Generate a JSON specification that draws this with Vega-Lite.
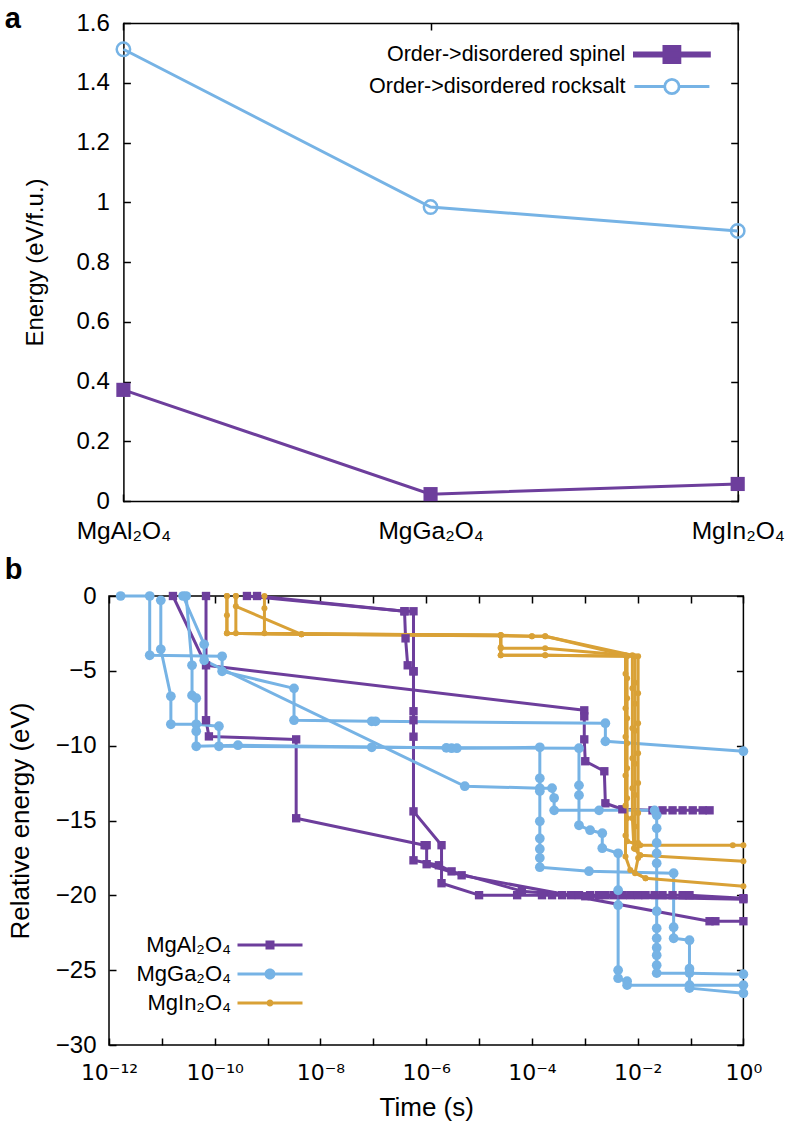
{
  "$schema": "https://vega.github.io/schema/vega-lite/v6.json",
  "padding": {"left": 3, "top": 5, "right": 5, "bottom": 0},
  "columns": 1,
  "align": "none",
  "spacing": 12,
  "datasets": {
    "a": [
      {"c": "MgAl₂O₄", "s": "Order->disordered spinel", "v": 0.372},
      {"c": "MgGa₂O₄", "s": "Order->disordered spinel", "v": 0.023},
      {"c": "MgIn₂O₄", "s": "Order->disordered spinel", "v": 0.057},
      {"c": "MgAl₂O₄", "s": "Order->disordered rocksalt", "v": 1.512},
      {"c": "MgGa₂O₄", "s": "Order->disordered rocksalt", "v": 0.984},
      {"c": "MgIn₂O₄", "s": "Order->disordered rocksalt", "v": 0.904}
    ],
    "b": [
      {"m": "MgAl₂O₄", "tr": "P1", "i": 0, "t": 1.62e-11, "e": 0},
      {"m": "MgAl₂O₄", "tr": "P1", "i": 1, "t": 6.84e-11, "e": -4.63},
      {"m": "MgAl₂O₄", "tr": "P1", "i": 2, "t": 9.77e-4, "e": -7.64},
      {"m": "MgAl₂O₄", "tr": "P1", "i": 3, "t": 9.77e-4, "e": -8.04},
      {"m": "MgAl₂O₄", "tr": "P1", "i": 4, "t": 9.77e-4, "e": -9.58},
      {"m": "MgAl₂O₄", "tr": "P1", "i": 5, "t": 1.02e-3, "e": -11.04},
      {"m": "MgAl₂O₄", "tr": "P1", "i": 6, "t": 2.34e-3, "e": -11.71},
      {"m": "MgAl₂O₄", "tr": "P1", "i": 7, "t": 2.45e-3, "e": -13.85},
      {"m": "MgAl₂O₄", "tr": "P1", "i": 8, "t": 5.13e-3, "e": -14.25},
      {"m": "MgAl₂O₄", "tr": "P1", "i": 9, "t": 1.91e-2, "e": -14.32},
      {"m": "MgAl₂O₄", "tr": "P1", "i": 10, "t": 2.95e-2, "e": -14.32},
      {"m": "MgAl₂O₄", "tr": "P1", "i": 11, "t": 4.57e-2, "e": -14.32},
      {"m": "MgAl₂O₄", "tr": "P1", "i": 12, "t": 7.08e-2, "e": -14.32},
      {"m": "MgAl₂O₄", "tr": "P1", "i": 13, "t": 1.1e-1, "e": -14.32},
      {"m": "MgAl₂O₄", "tr": "P1", "i": 14, "t": 1.7e-1, "e": -14.32},
      {"m": "MgAl₂O₄", "tr": "P1", "i": 15, "t": 2.29e-1, "e": -14.32},
      {"m": "MgAl₂O₄", "tr": "P2", "i": 0, "t": 6.84e-11, "e": 0},
      {"m": "MgAl₂O₄", "tr": "P2", "i": 1, "t": 6.84e-11, "e": -8.3},
      {"m": "MgAl₂O₄", "tr": "P2", "i": 2, "t": 7.76e-11, "e": -9.38},
      {"m": "MgAl₂O₄", "tr": "P2", "i": 3, "t": 3.47e-9, "e": -9.58},
      {"m": "MgAl₂O₄", "tr": "P2", "i": 4, "t": 3.47e-9, "e": -14.85},
      {"m": "MgAl₂O₄", "tr": "P2", "i": 5, "t": 9.33e-7, "e": -16.65},
      {"m": "MgAl₂O₄", "tr": "P2", "i": 6, "t": 1.02e-6, "e": -16.65},
      {"m": "MgAl₂O₄", "tr": "P2", "i": 7, "t": 1.02e-6, "e": -17.92},
      {"m": "MgAl₂O₄", "tr": "P2", "i": 8, "t": 4.68e-6, "e": -18.66},
      {"m": "MgAl₂O₄", "tr": "P2", "i": 9, "t": 2.29e-1, "e": -21.73},
      {"m": "MgAl₂O₄", "tr": "P2", "i": 10, "t": 2.95e-1, "e": -21.73},
      {"m": "MgAl₂O₄", "tr": "P2", "i": 11, "t": 1, "e": -21.73},
      {"m": "MgAl₂O₄", "tr": "P3", "i": 0, "t": 4.07e-10, "e": 0},
      {"m": "MgAl₂O₄", "tr": "P3", "i": 1, "t": 3.89e-7, "e": -1.02},
      {"m": "MgAl₂O₄", "tr": "P3", "i": 2, "t": 4.07e-7, "e": -2.83},
      {"m": "MgAl₂O₄", "tr": "P3", "i": 3, "t": 4.47e-7, "e": -4.63},
      {"m": "MgAl₂O₄", "tr": "P3", "i": 4, "t": 5.75e-7, "e": -5.03},
      {"m": "MgAl₂O₄", "tr": "P3", "i": 5, "t": 5.75e-7, "e": -14.39},
      {"m": "MgAl₂O₄", "tr": "P3", "i": 6, "t": 1.95e-6, "e": -16.65},
      {"m": "MgAl₂O₄", "tr": "P3", "i": 7, "t": 1.95e-6, "e": -19.19},
      {"m": "MgAl₂O₄", "tr": "P3", "i": 8, "t": 1.0e-5, "e": -19.99},
      {"m": "MgAl₂O₄", "tr": "P3", "i": 9, "t": 5.25e-5, "e": -19.99},
      {"m": "MgAl₂O₄", "tr": "P3", "i": 10, "t": 1.55e-4, "e": -19.99},
      {"m": "MgAl₂O₄", "tr": "P3", "i": 11, "t": 2.4e-4, "e": -19.99},
      {"m": "MgAl₂O₄", "tr": "P3", "i": 12, "t": 3.72e-4, "e": -19.99},
      {"m": "MgAl₂O₄", "tr": "P3", "i": 13, "t": 5.5e-4, "e": -19.99},
      {"m": "MgAl₂O₄", "tr": "P3", "i": 14, "t": 7.76e-4, "e": -19.99},
      {"m": "MgAl₂O₄", "tr": "P3", "i": 15, "t": 1.26e-3, "e": -19.99},
      {"m": "MgAl₂O₄", "tr": "P3", "i": 16, "t": 1.86e-3, "e": -19.99},
      {"m": "MgAl₂O₄", "tr": "P3", "i": 17, "t": 2.45e-3, "e": -19.99},
      {"m": "MgAl₂O₄", "tr": "P3", "i": 18, "t": 3.5e-3, "e": -19.99},
      {"m": "MgAl₂O₄", "tr": "P3", "i": 19, "t": 5.13e-3, "e": -19.99},
      {"m": "MgAl₂O₄", "tr": "P3", "i": 20, "t": 7.24e-3, "e": -19.99},
      {"m": "MgAl₂O₄", "tr": "P3", "i": 21, "t": 1.02e-2, "e": -19.99},
      {"m": "MgAl₂O₄", "tr": "P3", "i": 22, "t": 1.41e-2, "e": -19.99},
      {"m": "MgAl₂O₄", "tr": "P3", "i": 23, "t": 2.09e-2, "e": -19.99},
      {"m": "MgAl₂O₄", "tr": "P3", "i": 24, "t": 2.95e-2, "e": -19.99},
      {"m": "MgAl₂O₄", "tr": "P3", "i": 25, "t": 4.57e-2, "e": -19.99},
      {"m": "MgAl₂O₄", "tr": "P3", "i": 26, "t": 7.08e-2, "e": -19.99},
      {"m": "MgAl₂O₄", "tr": "P3", "i": 27, "t": 9.55e-2, "e": -19.99},
      {"m": "MgAl₂O₄", "tr": "P3", "i": 28, "t": 1, "e": -20.19},
      {"m": "MgAl₂O₄", "tr": "P4", "i": 0, "t": 6.31e-10, "e": 0},
      {"m": "MgAl₂O₄", "tr": "P4", "i": 1, "t": 3.89e-7, "e": -1.02},
      {"m": "MgAl₂O₄", "tr": "P4", "i": 2, "t": 5.75e-7, "e": -1.02},
      {"m": "MgAl₂O₄", "tr": "P4", "i": 3, "t": 5.75e-7, "e": -5.03},
      {"m": "MgAl₂O₄", "tr": "P4", "i": 4, "t": 5.75e-7, "e": -7.7},
      {"m": "MgAl₂O₄", "tr": "P4", "i": 5, "t": 5.75e-7, "e": -8.3},
      {"m": "MgAl₂O₄", "tr": "P4", "i": 6, "t": 5.75e-7, "e": -9.4},
      {"m": "MgAl₂O₄", "tr": "P4", "i": 7, "t": 5.75e-7, "e": -17.66},
      {"m": "MgAl₂O₄", "tr": "P4", "i": 8, "t": 1.74e-6, "e": -17.99},
      {"m": "MgAl₂O₄", "tr": "P4", "i": 9, "t": 3.02e-6, "e": -18.4},
      {"m": "MgAl₂O₄", "tr": "P4", "i": 10, "t": 6.46e-5, "e": -19.72},
      {"m": "MgAl₂O₄", "tr": "P4", "i": 11, "t": 1.02e-3, "e": -20.06},
      {"m": "MgAl₂O₄", "tr": "P4", "i": 12, "t": 1, "e": -20.26},
      {"m": "MgGa₂O₄", "tr": "B1", "i": 0, "t": 1.66e-12, "e": 0},
      {"m": "MgGa₂O₄", "tr": "B1", "i": 1, "t": 5.89e-12, "e": 0},
      {"m": "MgGa₂O₄", "tr": "B1", "i": 2, "t": 5.89e-12, "e": -3.96},
      {"m": "MgGa₂O₄", "tr": "B1", "i": 3, "t": 1.38e-10, "e": -4.03},
      {"m": "MgGa₂O₄", "tr": "B1", "i": 4, "t": 1.38e-10, "e": -5.03},
      {"m": "MgGa₂O₄", "tr": "B1", "i": 5, "t": 3.16e-9, "e": -6.17},
      {"m": "MgGa₂O₄", "tr": "B1", "i": 6, "t": 3.16e-9, "e": -8.3},
      {"m": "MgGa₂O₄", "tr": "B1", "i": 7, "t": 9.33e-8, "e": -8.37},
      {"m": "MgGa₂O₄", "tr": "B1", "i": 8, "t": 1.1e-7, "e": -8.37},
      {"m": "MgGa₂O₄", "tr": "B1", "i": 9, "t": 2.45e-3, "e": -8.5},
      {"m": "MgGa₂O₄", "tr": "B1", "i": 10, "t": 2.45e-3, "e": -9.71},
      {"m": "MgGa₂O₄", "tr": "B1", "i": 11, "t": 1, "e": -10.37},
      {"m": "MgGa₂O₄", "tr": "B2", "i": 0, "t": 9.55e-12, "e": -0.29},
      {"m": "MgGa₂O₄", "tr": "B2", "i": 1, "t": 9.55e-12, "e": -3.56},
      {"m": "MgGa₂O₄", "tr": "B2", "i": 2, "t": 1.48e-11, "e": -6.7},
      {"m": "MgGa₂O₄", "tr": "B2", "i": 3, "t": 1.48e-11, "e": -8.57},
      {"m": "MgGa₂O₄", "tr": "B2", "i": 4, "t": 4.47e-11, "e": -8.57},
      {"m": "MgGa₂O₄", "tr": "B2", "i": 5, "t": 1.2e-10, "e": -8.7},
      {"m": "MgGa₂O₄", "tr": "B2", "i": 6, "t": 1.2e-10, "e": -10.04},
      {"m": "MgGa₂O₄", "tr": "B2", "i": 7, "t": 9.33e-8, "e": -10.11},
      {"m": "MgGa₂O₄", "tr": "B2", "i": 8, "t": 7.76e-4, "e": -10.17},
      {"m": "MgGa₂O₄", "tr": "B2", "i": 9, "t": 7.76e-4, "e": -12.65},
      {"m": "MgGa₂O₄", "tr": "B2", "i": 10, "t": 7.76e-4, "e": -13.31},
      {"m": "MgGa₂O₄", "tr": "B2", "i": 11, "t": 7.76e-4, "e": -15.32},
      {"m": "MgGa₂O₄", "tr": "B2", "i": 12, "t": 1.26e-3, "e": -15.65},
      {"m": "MgGa₂O₄", "tr": "B2", "i": 13, "t": 2.14e-3, "e": -15.85},
      {"m": "MgGa₂O₄", "tr": "B2", "i": 14, "t": 2.14e-3, "e": -16.85},
      {"m": "MgGa₂O₄", "tr": "B2", "i": 15, "t": 4.27e-3, "e": -17.19},
      {"m": "MgGa₂O₄", "tr": "B2", "i": 16, "t": 4.27e-3, "e": -19.66},
      {"m": "MgGa₂O₄", "tr": "B2", "i": 17, "t": 4.27e-3, "e": -20.66},
      {"m": "MgGa₂O₄", "tr": "B2", "i": 18, "t": 4.27e-3, "e": -25.0},
      {"m": "MgGa₂O₄", "tr": "B2", "i": 19, "t": 4.27e-3, "e": -25.54},
      {"m": "MgGa₂O₄", "tr": "B2", "i": 20, "t": 6.31e-3, "e": -25.74},
      {"m": "MgGa₂O₄", "tr": "B2", "i": 21, "t": 6.31e-3, "e": -26.0},
      {"m": "MgGa₂O₄", "tr": "B2", "i": 22, "t": 9.55e-2, "e": -26.0},
      {"m": "MgGa₂O₄", "tr": "B2", "i": 23, "t": 1, "e": -26.0},
      {"m": "MgGa₂O₄", "tr": "B3", "i": 0, "t": 2.51e-11, "e": 0},
      {"m": "MgGa₂O₄", "tr": "B3", "i": 1, "t": 6.31e-11, "e": -3.23},
      {"m": "MgGa₂O₄", "tr": "B3", "i": 2, "t": 6.31e-11, "e": -4.3},
      {"m": "MgGa₂O₄", "tr": "B3", "i": 3, "t": 5.37e-6, "e": -12.71},
      {"m": "MgGa₂O₄", "tr": "B3", "i": 4, "t": 1.41e-4, "e": -12.84},
      {"m": "MgGa₂O₄", "tr": "B3", "i": 5, "t": 2.4e-4, "e": -12.84},
      {"m": "MgGa₂O₄", "tr": "B3", "i": 6, "t": 2.63e-4, "e": -13.5},
      {"m": "MgGa₂O₄", "tr": "B3", "i": 7, "t": 2.63e-4, "e": -14.32},
      {"m": "MgGa₂O₄", "tr": "B3", "i": 8, "t": 1.86e-3, "e": -14.32},
      {"m": "MgGa₂O₄", "tr": "B3", "i": 9, "t": 2.09e-2, "e": -14.32},
      {"m": "MgGa₂O₄", "tr": "B3", "i": 10, "t": 2.29e-2, "e": -14.65},
      {"m": "MgGa₂O₄", "tr": "B3", "i": 11, "t": 2.29e-2, "e": -15.52},
      {"m": "MgGa₂O₄", "tr": "B3", "i": 12, "t": 2.29e-2, "e": -16.5},
      {"m": "MgGa₂O₄", "tr": "B3", "i": 13, "t": 2.29e-2, "e": -17.2},
      {"m": "MgGa₂O₄", "tr": "B3", "i": 14, "t": 2.29e-2, "e": -17.86},
      {"m": "MgGa₂O₄", "tr": "B3", "i": 15, "t": 2.29e-2, "e": -21.06},
      {"m": "MgGa₂O₄", "tr": "B3", "i": 16, "t": 2.29e-2, "e": -22.2},
      {"m": "MgGa₂O₄", "tr": "B3", "i": 17, "t": 2.29e-2, "e": -22.87},
      {"m": "MgGa₂O₄", "tr": "B3", "i": 18, "t": 2.29e-2, "e": -23.5},
      {"m": "MgGa₂O₄", "tr": "B3", "i": 19, "t": 2.29e-2, "e": -24.0},
      {"m": "MgGa₂O₄", "tr": "B3", "i": 20, "t": 2.29e-2, "e": -24.67},
      {"m": "MgGa₂O₄", "tr": "B3", "i": 21, "t": 2.29e-2, "e": -25.2},
      {"m": "MgGa₂O₄", "tr": "B3", "i": 22, "t": 9.55e-2, "e": -25.2},
      {"m": "MgGa₂O₄", "tr": "B3", "i": 23, "t": 1, "e": -25.27},
      {"m": "MgGa₂O₄", "tr": "B4", "i": 0, "t": 2.88e-11, "e": 0},
      {"m": "MgGa₂O₄", "tr": "B4", "i": 1, "t": 3.72e-11, "e": -4.63},
      {"m": "MgGa₂O₄", "tr": "B4", "i": 2, "t": 3.72e-11, "e": -6.64},
      {"m": "MgGa₂O₄", "tr": "B4", "i": 3, "t": 4.47e-11, "e": -6.83},
      {"m": "MgGa₂O₄", "tr": "B4", "i": 4, "t": 4.47e-11, "e": -9.04},
      {"m": "MgGa₂O₄", "tr": "B4", "i": 5, "t": 4.47e-11, "e": -10.04},
      {"m": "MgGa₂O₄", "tr": "B4", "i": 6, "t": 2.75e-10, "e": -9.97},
      {"m": "MgGa₂O₄", "tr": "B4", "i": 7, "t": 2.4e-6, "e": -10.15},
      {"m": "MgGa₂O₄", "tr": "B4", "i": 8, "t": 3.02e-6, "e": -10.17},
      {"m": "MgGa₂O₄", "tr": "B4", "i": 9, "t": 3.8e-6, "e": -10.17},
      {"m": "MgGa₂O₄", "tr": "B4", "i": 10, "t": 1.41e-4, "e": -10.11},
      {"m": "MgGa₂O₄", "tr": "B4", "i": 11, "t": 1.41e-4, "e": -12.18},
      {"m": "MgGa₂O₄", "tr": "B4", "i": 12, "t": 1.41e-4, "e": -13.04},
      {"m": "MgGa₂O₄", "tr": "B4", "i": 13, "t": 1.41e-4, "e": -15.05},
      {"m": "MgGa₂O₄", "tr": "B4", "i": 14, "t": 1.41e-4, "e": -16.2},
      {"m": "MgGa₂O₄", "tr": "B4", "i": 15, "t": 1.41e-4, "e": -16.9},
      {"m": "MgGa₂O₄", "tr": "B4", "i": 16, "t": 1.41e-4, "e": -17.5},
      {"m": "MgGa₂O₄", "tr": "B4", "i": 17, "t": 1.41e-4, "e": -18.12},
      {"m": "MgGa₂O₄", "tr": "B4", "i": 18, "t": 1.2e-3, "e": -18.39},
      {"m": "MgGa₂O₄", "tr": "B4", "i": 19, "t": 4.79e-2, "e": -18.52},
      {"m": "MgGa₂O₄", "tr": "B4", "i": 20, "t": 4.79e-2, "e": -22.13},
      {"m": "MgGa₂O₄", "tr": "B4", "i": 21, "t": 4.79e-2, "e": -22.87},
      {"m": "MgGa₂O₄", "tr": "B4", "i": 22, "t": 9.55e-2, "e": -23.0},
      {"m": "MgGa₂O₄", "tr": "B4", "i": 23, "t": 9.55e-2, "e": -24.9},
      {"m": "MgGa₂O₄", "tr": "B4", "i": 24, "t": 9.55e-2, "e": -26.2},
      {"m": "MgGa₂O₄", "tr": "B4", "i": 25, "t": 1, "e": -26.54},
      {"m": "MgIn₂O₄", "tr": "Y1", "i": 0, "t": 1.7e-10, "e": 0},
      {"m": "MgIn₂O₄", "tr": "Y1", "i": 1, "t": 1.7e-10, "e": -1.29},
      {"m": "MgIn₂O₄", "tr": "Y1", "i": 2, "t": 1.7e-10, "e": -2.49},
      {"m": "MgIn₂O₄", "tr": "Y1", "i": 3, "t": 4.37e-9, "e": -2.56},
      {"m": "MgIn₂O₄", "tr": "Y1", "i": 4, "t": 2.57e-5, "e": -2.62},
      {"m": "MgIn₂O₄", "tr": "Y1", "i": 5, "t": 2.57e-5, "e": -3.43},
      {"m": "MgIn₂O₄", "tr": "Y1", "i": 6, "t": 2.57e-5, "e": -3.96},
      {"m": "MgIn₂O₄", "tr": "Y1", "i": 7, "t": 1.78e-4, "e": -3.96},
      {"m": "MgIn₂O₄", "tr": "Y1", "i": 8, "t": 6.31e-3, "e": -4.03},
      {"m": "MgIn₂O₄", "tr": "Y1", "i": 9, "t": 6.31e-3, "e": -5.5},
      {"m": "MgIn₂O₄", "tr": "Y1", "i": 10, "t": 6.31e-3, "e": -6.83},
      {"m": "MgIn₂O₄", "tr": "Y1", "i": 11, "t": 6.31e-3, "e": -8.17},
      {"m": "MgIn₂O₄", "tr": "Y1", "i": 12, "t": 6.31e-3, "e": -9.84},
      {"m": "MgIn₂O₄", "tr": "Y1", "i": 13, "t": 6.31e-3, "e": -11.51},
      {"m": "MgIn₂O₄", "tr": "Y1", "i": 14, "t": 6.31e-3, "e": -13.52},
      {"m": "MgIn₂O₄", "tr": "Y1", "i": 15, "t": 6.31e-3, "e": -14.85},
      {"m": "MgIn₂O₄", "tr": "Y1", "i": 16, "t": 6.31e-3, "e": -16.39},
      {"m": "MgIn₂O₄", "tr": "Y1", "i": 17, "t": 1.12e-2, "e": -16.65},
      {"m": "MgIn₂O₄", "tr": "Y1", "i": 18, "t": 6.31e-1, "e": -16.65},
      {"m": "MgIn₂O₄", "tr": "Y1", "i": 19, "t": 1, "e": -16.65},
      {"m": "MgIn₂O₄", "tr": "Y2", "i": 0, "t": 2.51e-10, "e": 0},
      {"m": "MgIn₂O₄", "tr": "Y2", "i": 1, "t": 2.51e-10, "e": -0.69},
      {"m": "MgIn₂O₄", "tr": "Y2", "i": 2, "t": 4.37e-9, "e": -2.56},
      {"m": "MgIn₂O₄", "tr": "Y2", "i": 3, "t": 1.0e-4, "e": -2.69},
      {"m": "MgIn₂O₄", "tr": "Y2", "i": 4, "t": 1.78e-4, "e": -2.69},
      {"m": "MgIn₂O₄", "tr": "Y2", "i": 5, "t": 7.94e-3, "e": -3.96},
      {"m": "MgIn₂O₄", "tr": "Y2", "i": 6, "t": 7.94e-3, "e": -6.17},
      {"m": "MgIn₂O₄", "tr": "Y2", "i": 7, "t": 7.94e-3, "e": -8.84},
      {"m": "MgIn₂O₄", "tr": "Y2", "i": 8, "t": 7.94e-3, "e": -10.84},
      {"m": "MgIn₂O₄", "tr": "Y2", "i": 9, "t": 7.94e-3, "e": -12.84},
      {"m": "MgIn₂O₄", "tr": "Y2", "i": 10, "t": 7.94e-3, "e": -14.85},
      {"m": "MgIn₂O₄", "tr": "Y2", "i": 11, "t": 8.51e-3, "e": -16.85},
      {"m": "MgIn₂O₄", "tr": "Y2", "i": 12, "t": 1.12e-2, "e": -17.32},
      {"m": "MgIn₂O₄", "tr": "Y2", "i": 13, "t": 1, "e": -17.72},
      {"m": "MgIn₂O₄", "tr": "Y3", "i": 0, "t": 8.71e-10, "e": 0},
      {"m": "MgIn₂O₄", "tr": "Y3", "i": 1, "t": 8.71e-10, "e": -0.82},
      {"m": "MgIn₂O₄", "tr": "Y3", "i": 2, "t": 8.71e-10, "e": -2.49},
      {"m": "MgIn₂O₄", "tr": "Y3", "i": 3, "t": 2.57e-5, "e": -2.62},
      {"m": "MgIn₂O₄", "tr": "Y3", "i": 4, "t": 2.57e-5, "e": -3.49},
      {"m": "MgIn₂O₄", "tr": "Y3", "i": 5, "t": 1.78e-4, "e": -3.49},
      {"m": "MgIn₂O₄", "tr": "Y3", "i": 6, "t": 1.02e-2, "e": -4.03},
      {"m": "MgIn₂O₄", "tr": "Y3", "i": 7, "t": 1.02e-2, "e": -6.5},
      {"m": "MgIn₂O₄", "tr": "Y3", "i": 8, "t": 1.02e-2, "e": -8.5},
      {"m": "MgIn₂O₄", "tr": "Y3", "i": 9, "t": 1.02e-2, "e": -10.5},
      {"m": "MgIn₂O₄", "tr": "Y3", "i": 10, "t": 1.02e-2, "e": -12.5},
      {"m": "MgIn₂O₄", "tr": "Y3", "i": 11, "t": 1.02e-2, "e": -14.5},
      {"m": "MgIn₂O₄", "tr": "Y3", "i": 12, "t": 1.02e-2, "e": -16.5},
      {"m": "MgIn₂O₄", "tr": "Y3", "i": 13, "t": 1.02e-2, "e": -17.5},
      {"m": "MgIn₂O₄", "tr": "Y3", "i": 14, "t": 8.91e-3, "e": -18.52},
      {"m": "MgIn₂O₄", "tr": "Y3", "i": 15, "t": 1.41e-2, "e": -18.86},
      {"m": "MgIn₂O₄", "tr": "Y3", "i": 16, "t": 1, "e": -19.39},
      {"m": "MgIn₂O₄", "tr": "Y4", "i": 0, "t": 1.7e-10, "e": 0},
      {"m": "MgIn₂O₄", "tr": "Y4", "i": 1, "t": 1.7e-10, "e": -2.49},
      {"m": "MgIn₂O₄", "tr": "Y4", "i": 2, "t": 4.37e-9, "e": -2.56},
      {"m": "MgIn₂O₄", "tr": "Y4", "i": 3, "t": 2.57e-5, "e": -2.62},
      {"m": "MgIn₂O₄", "tr": "Y4", "i": 4, "t": 1.0e-4, "e": -2.69},
      {"m": "MgIn₂O₄", "tr": "Y4", "i": 5, "t": 1.78e-4, "e": -2.69},
      {"m": "MgIn₂O₄", "tr": "Y4", "i": 6, "t": 5.89e-3, "e": -3.96},
      {"m": "MgIn₂O₄", "tr": "Y4", "i": 7, "t": 5.89e-3, "e": -5.2},
      {"m": "MgIn₂O₄", "tr": "Y4", "i": 8, "t": 5.89e-3, "e": -7.5},
      {"m": "MgIn₂O₄", "tr": "Y4", "i": 9, "t": 5.89e-3, "e": -9.4},
      {"m": "MgIn₂O₄", "tr": "Y4", "i": 10, "t": 5.89e-3, "e": -12.0},
      {"m": "MgIn₂O₄", "tr": "Y4", "i": 11, "t": 5.89e-3, "e": -14.0},
      {"m": "MgIn₂O₄", "tr": "Y4", "i": 12, "t": 5.89e-3, "e": -16.0},
      {"m": "MgIn₂O₄", "tr": "Y4", "i": 13, "t": 5.89e-3, "e": -17.4},
      {"m": "MgIn₂O₄", "tr": "Y4", "i": 14, "t": 7.24e-3, "e": -18.3},
      {"m": "MgIn₂O₄", "tr": "Y4", "i": 15, "t": 1.41e-2, "e": -18.86},
      {"m": "MgIn₂O₄", "tr": "Y5", "i": 0, "t": 2.51e-10, "e": 0},
      {"m": "MgIn₂O₄", "tr": "Y5", "i": 1, "t": 2.51e-10, "e": -2.49},
      {"m": "MgIn₂O₄", "tr": "Y5", "i": 2, "t": 2.57e-5, "e": -2.62},
      {"m": "MgIn₂O₄", "tr": "Y5", "i": 3, "t": 2.57e-5, "e": -3.96},
      {"m": "MgIn₂O₄", "tr": "Y5", "i": 4, "t": 1.78e-4, "e": -3.96},
      {"m": "MgIn₂O₄", "tr": "Y5", "i": 5, "t": 8.91e-3, "e": -4.03},
      {"m": "MgIn₂O₄", "tr": "Y5", "i": 6, "t": 8.91e-3, "e": -5.8},
      {"m": "MgIn₂O₄", "tr": "Y5", "i": 7, "t": 8.91e-3, "e": -7.2},
      {"m": "MgIn₂O₄", "tr": "Y5", "i": 8, "t": 8.91e-3, "e": -9.0},
      {"m": "MgIn₂O₄", "tr": "Y5", "i": 9, "t": 8.91e-3, "e": -11.2},
      {"m": "MgIn₂O₄", "tr": "Y5", "i": 10, "t": 8.91e-3, "e": -13.3},
      {"m": "MgIn₂O₄", "tr": "Y5", "i": 11, "t": 8.91e-3, "e": -15.4},
      {"m": "MgIn₂O₄", "tr": "Y5", "i": 12, "t": 8.91e-3, "e": -16.9},
      {"m": "MgIn₂O₄", "tr": "Y5", "i": 13, "t": 1.12e-2, "e": -17.32}
    ]
  },
  "concat": [
    {
      "width": 628.7,
      "height": 478,
      "view": {"stroke": null},
      "title": {"text": "a", "frame": "group", "dx": -104.3, "dy": 46, "offset": 0, "baseline": "alphabetic"},
      "data": {"name": "a"},
      "encoding": {
        "x": {"field": "c", "type": "nominal", "scale": {"type": "point", "padding": 0, "range": [14.4, 628.7], "domain": ["MgAl₂O₄", "MgGa₂O₄", "MgIn₂O₄"]}, "axis": null},
        "y": {"field": "v", "type": "quantitative", "scale": {"domain": [0, 1.6], "nice": false, "zero": false}, "axis": null}
      },
      "layer": [
        {
          "mark": {"type": "line", "strokeWidth": 3},
          "encoding": {
            "x": {"field": "c", "type": "nominal", "scale": {"type": "point", "padding": 0, "range": [14.4, 628.7], "domain": ["MgAl₂O₄", "MgGa₂O₄", "MgIn₂O₄"]},
              "axis": {"title": null, "labelAngle": 0, "labelPadding": 25, "labelFontSize": 24.5, "domain": true, "domainColor": "black", "domainWidth": 1.5, "domainCap": "square"}},
            "y": {"field": "v", "type": "quantitative", "scale": {"domain": [0, 1.6], "nice": false, "zero": false},
              "axis": {"title": "Energy (eV/f.u.)", "offset": -14.4, "values": [0, 0.2, 0.4, 0.6, 0.8, 1, 1.2, 1.4, 1.6], "format": "~g", "labelFontSize": 24, "labelPadding": 21, "titlePadding": 29, "domain": true, "domainColor": "black", "domainWidth": 1.5, "domainCap": "square"}},
            "color": {"field": "s", "type": "nominal",
              "scale": {"domain": ["Order->disordered spinel", "Order->disordered rocksalt"], "range": ["#6D3E9C", "#76B3E5"]},
              "legend": {
                "orient": "none", "legendX": 551.4, "legendY": 20, "title": null, "padding": 0,
                "symbolSize": 400, "labelFontSize": 21.5, "labelLimit": 500, "labelColor": "black", "labelAlign": "right", "labelOffset": -58, "rowPadding": 4,
                "encode": {"symbols": {"update": {
                  "shape": {"signal": "datum.value === 'Order->disordered spinel' ? 'M-3.75,-0.15H3.75V0.15H-3.75Z M-0.8,-0.8H0.8V0.8H-0.8Z' : 'M-3.75,0H-0.72 M0.72,0H3.75 M0.72,0A0.72,0.72 0 1,1 -0.72,0A0.72,0.72 0 1,1 0.72,0'"},
                  "fill": {"signal": "datum.value === 'Order->disordered spinel' ? '#6D3E9C' : 'transparent'"},
                  "stroke": {"signal": "datum.value === 'Order->disordered spinel' ? 'transparent' : '#76B3E5'"},
                  "strokeWidth": {"value": 2.8},
                  "opacity": {"value": 1},
                  "fillOpacity": {"value": 1}
                }}}
              }
            }
          }
        },
        {
          "transform": [{"filter": "datum.s === 'Order->disordered spinel'"}],
          "mark": {"type": "point", "shape": "square", "filled": true, "size": 200, "color": "#6D3E9C", "opacity": 1}
        },
        {
          "transform": [{"filter": "datum.s === 'Order->disordered rocksalt'"}],
          "mark": {"type": "point", "shape": "circle", "filled": false, "size": 180, "strokeWidth": 2.5, "color": "#76B3E5", "opacity": 1}
        },
        {
          "mark": {"type": "point", "opacity": 0},
          "encoding": {
            "x": {"field": "c", "type": "nominal", "scale": {"type": "point", "padding": 0, "range": [14.4, 628.7], "domain": ["MgAl₂O₄", "MgGa₂O₄", "MgIn₂O₄"]},
              "axis": {"orient": "top", "title": null, "labels": false, "domain": true, "domainColor": "black", "domainWidth": 1.5, "domainCap": "square"}},
            "y": {"field": "v", "type": "quantitative", "scale": {"domain": [0, 1.6], "nice": false, "zero": false},
              "axis": {"orient": "right", "title": null, "labels": false, "values": [0, 0.2, 0.4, 0.6, 0.8, 1, 1.2, 1.4, 1.6], "domain": true, "domainColor": "black", "domainWidth": 1.5, "domainCap": "square"}}
          }
        }
      ],
      "resolve": {"axis": {"x": "independent", "y": "independent"}}
    },
    {
      "width": 634.4,
      "height": 449,
      "title": {"text": "b", "frame": "group", "dx": -104.3, "dy": 24, "offset": 0, "baseline": "alphabetic"},
      "data": {"name": "b"},
      "encoding": {
        "x": {"field": "t", "type": "quantitative", "scale": {"type": "log", "domain": [1e-12, 1], "nice": false}, "axis": null},
        "y": {"field": "e", "type": "quantitative", "scale": {"domain": [-30, 0], "nice": false, "zero": false}, "axis": null}
      },
      "layer": [
        {
          "mark": {"type": "line", "strokeWidth": 3, "strokeJoin": "round"},
          "encoding": {
            "x": {"field": "t", "type": "quantitative", "scale": {"type": "log", "domain": [1e-12, 1], "nice": false},
              "axis": {"title": "Time (s)", "values": [1e-12, 1e-11, 1e-10, 1e-9, 1e-8, 1e-7, 1e-6, 1e-5, 1e-4, 1e-3, 1e-2, 1e-1, 1],
                "labelExpr": "datum.value < 3e-12 ? '10⁻¹²' : datum.value < 3e-11 ? '' : datum.value < 3e-10 ? '10⁻¹⁰' : datum.value < 3e-9 ? '' : datum.value < 3e-8 ? '10⁻⁸' : datum.value < 3e-7 ? '' : datum.value < 3e-6 ? '10⁻⁶' : datum.value < 3e-5 ? '' : datum.value < 3e-4 ? '10⁻⁴' : datum.value < 3e-3 ? '' : datum.value < 3e-2 ? '10⁻²' : datum.value < 3e-1 ? '' : '10⁰'",
                "labelFlush": false, "labelOverlap": false, "labelPadding": 24, "labelFont": "DejaVu Sans", "labelFontSize": 22, "titlePadding": 11, "titleFontSize": 26}},
            "y": {"field": "e", "type": "quantitative", "scale": {"domain": [-30, 0], "nice": false, "zero": false},
              "axis": {"title": "Relative energy (eV)", "values": [-30, -25, -20, -15, -10, -5, 0], "labelFontSize": 24, "labelPadding": 20, "titlePadding": 22, "titleFontSize": 26}},
            "detail": {"field": "tr"},
            "order": {"field": "i"},
            "color": {"field": "m", "type": "nominal",
              "scale": {"domain": ["MgAl₂O₄", "MgGa₂O₄", "MgIn₂O₄"], "range": ["#6D3E9C", "#76B3E5", "#D9A136"]},
              "legend": {
                "orient": "none", "legendX": 150, "legendY": 338, "title": null, "padding": 0,
                "symbolSize": 400, "labelFontSize": 22, "labelLimit": 500, "labelColor": "black", "labelAlign": "right", "labelOffset": -50, "rowPadding": 7,
                "encode": {"symbols": {"update": {
                  "shape": {"signal": "datum.value === 'MgAl₂O₄' ? 'M-3.25,-0.15H3.25V0.15H-3.25Z M-0.45,-0.45H0.45V0.45H-0.45Z' : datum.value === 'MgGa₂O₄' ? 'M-3.25,-0.15H3.25V0.15H-3.25Z M0.55,0A0.55,0.55 0 1,1 -0.55,0A0.55,0.55 0 1,1 0.55,0Z' : 'M-3.25,-0.15H3.25V0.15H-3.25Z M0.35,0A0.35,0.35 0 1,1 -0.35,0A0.35,0.35 0 1,1 0.35,0Z'"},
                  "fill": {"signal": "datum.value === 'MgAl₂O₄' ? '#6D3E9C' : datum.value === 'MgGa₂O₄' ? '#76B3E5' : '#D9A136'"},
                  "stroke": {"value": "transparent"},
                  "strokeWidth": {"value": 0},
                  "opacity": {"value": 1},
                  "fillOpacity": {"value": 1}
                }}}
              }
            }
          }
        },
        {
          "transform": [{"filter": "datum.m === 'MgAl₂O₄'"}],
          "mark": {"type": "point", "shape": "square", "filled": true, "size": 70, "color": "#6D3E9C", "opacity": 1}
        },
        {
          "transform": [{"filter": "datum.m === 'MgGa₂O₄'"}],
          "mark": {"type": "point", "shape": "circle", "filled": true, "size": 95, "color": "#76B3E5", "opacity": 1}
        },
        {
          "transform": [{"filter": "datum.m === 'MgIn₂O₄'"}],
          "mark": {"type": "point", "shape": "circle", "filled": true, "size": 36, "color": "#D9A136", "opacity": 1}
        },
        {
          "mark": {"type": "point", "opacity": 0},
          "encoding": {
            "x": {"field": "t", "type": "quantitative", "scale": {"type": "log", "domain": [1e-12, 1], "nice": false},
              "axis": {"orient": "top", "title": null, "labels": false, "values": [1e-12, 1e-11, 1e-10, 1e-9, 1e-8, 1e-7, 1e-6, 1e-5, 1e-4, 1e-3, 1e-2, 1e-1, 1]}},
            "y": {"field": "e", "type": "quantitative", "scale": {"domain": [-30, 0], "nice": false, "zero": false},
              "axis": {"orient": "right", "title": null, "labels": false, "values": [-30, -25, -20, -15, -10, -5, 0]}}
          }
        }
      ],
      "resolve": {"axis": {"x": "independent", "y": "independent"}}
    }
  ],
  "resolve": {"scale": {"color": "independent", "x": "independent", "y": "independent"}, "legend": {"color": "independent"}},
  "config": {
    "font": "Liberation Sans",
    "view": {"stroke": "black", "strokeWidth": 1.5},
    "axis": {"domain": false, "grid": false, "tickColor": "black", "tickWidth": 1.5, "tickSize": -7,
      "labelColor": "black", "labelFont": "Liberation Sans", "labelFontSize": 23,
      "titleFont": "Liberation Sans", "titleFontSize": 24, "titleFontWeight": "normal", "titleColor": "black"},
    "legend": {"labelFont": "Liberation Sans"},
    "title": {"font": "Liberation Sans", "fontSize": 29, "fontWeight": "bold", "anchor": "start", "color": "black"}
  }
}
